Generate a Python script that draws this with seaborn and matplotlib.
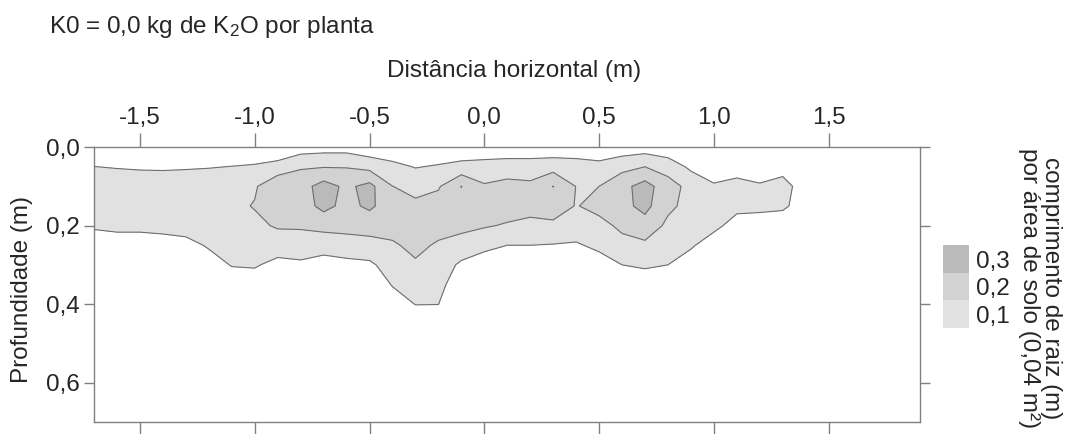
import numpy as np
import matplotlib
matplotlib.use("Agg")
import matplotlib.pyplot as plt
import seaborn as sns
from matplotlib.patches import Rectangle

# grid columns: horizontal distance from the plant (m)
distance = [-1.7, -1.6, -1.5, -1.4, -1.3, -1.2, -1.1, -1.0, -0.9, -0.8, -0.7, -0.6,
            -0.5, -0.4, -0.3, -0.2, -0.1, 0.0, 0.1, 0.2, 0.3, 0.4, 0.5, 0.6,
            0.7, 0.8, 0.9, 1.0, 1.1, 1.2, 1.3, 1.4, 1.5, 1.6, 1.7, 1.8, 1.9]
# grid rows: depth (m)
depth = [0.0, 0.05, 0.10, 0.15, 0.20, 0.25, 0.30, 0.35, 0.40, 0.45, 0.50, 0.60, 0.70]

# root length per soil area, one depth profile per distance column
root_profiles = [
    [0.02, 0.101, 0.15, 0.15, 0.11, 0.06, 0.03, 0.02, 0.01, 0.01, 0.01, 0.01, 0.01],   # -1.7
    [0.02, 0.095, 0.15, 0.16, 0.12, 0.06, 0.03, 0.02, 0.01, 0.01, 0.01, 0.01, 0.01],   # -1.6
    [0.02, 0.09, 0.15, 0.16, 0.12, 0.06, 0.03, 0.02, 0.01, 0.01, 0.01, 0.01, 0.01],    # -1.5
    [0.02, 0.088, 0.15, 0.16, 0.13, 0.06, 0.03, 0.02, 0.01, 0.01, 0.01, 0.01, 0.01],   # -1.4
    [0.02, 0.09, 0.16, 0.17, 0.14, 0.07, 0.04, 0.02, 0.01, 0.01, 0.01, 0.01, 0.01],    # -1.3
    [0.02, 0.095, 0.16, 0.17, 0.15, 0.11, 0.06, 0.03, 0.02, 0.01, 0.01, 0.01, 0.01],   # -1.2
    [0.03, 0.102, 0.17, 0.18, 0.17, 0.14, 0.105, 0.05, 0.03, 0.02, 0.01, 0.01, 0.01],  # -1.1
    [0.03, 0.11, 0.19, 0.205, 0.18, 0.15, 0.11, 0.05, 0.03, 0.02, 0.01, 0.01, 0.01],   # -1.0
    [0.0, 0.145, 0.27, 0.25, 0.21, 0.15, 0.07, 0.04, 0.02, 0.01, 0.01, 0.01, 0.01],    # -0.9
    [0.05, 0.19, 0.26, 0.25, 0.21, 0.16, 0.08, 0.04, 0.02, 0.01, 0.01, 0.01, 0.01],    # -0.8
    [0.06, 0.195, 0.34, 0.33, 0.23, 0.14, 0.06, 0.03, 0.02, 0.01, 0.01, 0.01, 0.01],   # -0.7
    [0.06, 0.195, 0.28, 0.27, 0.23, 0.16, 0.07, 0.04, 0.02, 0.01, 0.01, 0.01, 0.01],   # -0.6
    [0.03, 0.17, 0.33, 0.32, 0.235, 0.17, 0.08, 0.04, 0.02, 0.01, 0.01, 0.01, 0.01],   # -0.5
    [0.02, 0.13, 0.201, 0.24, 0.23, 0.19, 0.15, 0.105, 0.06, 0.03, 0.02, 0.01, 0.01],  # -0.4
    [0.02, 0.095, 0.17, 0.22, 0.23, 0.22, 0.19, 0.14, 0.102, 0.05, 0.02, 0.01, 0.01],  # -0.3
    [0.02, 0.11, 0.19, 0.24, 0.23, 0.19, 0.16, 0.13, 0.101, 0.05, 0.02, 0.01, 0.01],   # -0.2
    [0.03, 0.13, 0.302, 0.27, 0.22, 0.17, 0.08, 0.04, 0.02, 0.01, 0.01, 0.01, 0.01],   # -0.1
    [0.03, 0.14, 0.21, 0.25, 0.21, 0.12, 0.06, 0.03, 0.02, 0.01, 0.01, 0.01, 0.01],    # 0.0
    [0.03, 0.15, 0.23, 0.25, 0.19, 0.10, 0.05, 0.03, 0.02, 0.01, 0.01, 0.01, 0.01],    # 0.1
    [0.03, 0.15, 0.22, 0.24, 0.17, 0.10, 0.05, 0.03, 0.02, 0.01, 0.01, 0.01, 0.01],    # 0.2
    [0.03, 0.16, 0.302, 0.25, 0.18, 0.095, 0.05, 0.03, 0.02, 0.01, 0.01, 0.01, 0.01],  # 0.3
    [0.03, 0.15, 0.198, 0.195, 0.15, 0.09, 0.05, 0.03, 0.02, 0.01, 0.01, 0.01, 0.01],  # 0.4
    [0.03, 0.13, 0.20, 0.23, 0.17, 0.12, 0.06, 0.03, 0.02, 0.01, 0.01, 0.01, 0.01],    # 0.5
    [0.04, 0.17, 0.27, 0.27, 0.22, 0.17, 0.10, 0.05, 0.03, 0.02, 0.01, 0.01, 0.01],    # 0.6
    [0.05, 0.20, 0.34, 0.33, 0.26, 0.18, 0.11, 0.06, 0.03, 0.02, 0.01, 0.01, 0.01],    # 0.7
    [0.03, 0.16, 0.24, 0.22, 0.18, 0.14, 0.10, 0.05, 0.03, 0.02, 0.01, 0.01, 0.01],    # 0.8
    [0.02, 0.08, 0.17, 0.17, 0.15, 0.11, 0.06, 0.03, 0.02, 0.01, 0.01, 0.01, 0.01],    # 0.9
    [0.01, 0.05, 0.11, 0.14, 0.12, 0.06, 0.03, 0.02, 0.01, 0.01, 0.01, 0.01, 0.01],    # 1.0
    [0.01, 0.06, 0.13, 0.12, 0.07, 0.04, 0.02, 0.01, 0.01, 0.01, 0.01, 0.01, 0.01],    # 1.1
    [0.01, 0.05, 0.11, 0.12, 0.06, 0.03, 0.02, 0.01, 0.01, 0.01, 0.01, 0.01, 0.01],    # 1.2
    [0.01, 0.07, 0.13, 0.115, 0.05, 0.03, 0.02, 0.01, 0.01, 0.01, 0.01, 0.01, 0.01],   # 1.3
    [0.01, 0.04, 0.06, 0.06, 0.03, 0.02, 0.01, 0.01, 0.01, 0.01, 0.01, 0.01, 0.01],    # 1.4
    [0.01, 0.02, 0.03, 0.03, 0.02, 0.01, 0.01, 0.01, 0.01, 0.01, 0.01, 0.01, 0.01],    # 1.5
    [0.01, 0.02, 0.02, 0.02, 0.01, 0.01, 0.01, 0.01, 0.01, 0.01, 0.01, 0.01, 0.01],    # 1.6
    [0.01, 0.02, 0.02, 0.02, 0.01, 0.01, 0.01, 0.01, 0.01, 0.01, 0.01, 0.01, 0.01],    # 1.7
    [0.01, 0.02, 0.02, 0.02, 0.01, 0.01, 0.01, 0.01, 0.01, 0.01, 0.01, 0.01, 0.01],    # 1.8
    [0.01, 0.02, 0.02, 0.02, 0.01, 0.01, 0.01, 0.01, 0.01, 0.01, 0.01, 0.01, 0.01],    # 1.9
]

levels = [0.1, 0.2, 0.3]
level_labels = ["0,1", "0,2", "0,3"]
level_colors = ["#e1e1e1", "#d2d2d2", "#bababa"]
line_color = "#6e6e6e"

x_ticks = [-1.5, -1.0, -0.5, 0.0, 0.5, 1.0, 1.5]
x_tick_labels = ["-1,5", "-1,0", "-0,5", "0,0", "0,5", "1,0", "1,5"]
y_ticks = [0.0, 0.2, 0.4, 0.6]
y_tick_labels = ["0,0", "0,2", "0,4", "0,6"]

sns.set_style("ticks")
plt.rcParams["font.family"] = ["Liberation Sans", "DejaVu Sans"]
plt.rcParams["mathtext.fontset"] = "custom"
plt.rcParams["mathtext.rm"] = "Liberation Sans"
plt.rcParams["mathtext.it"] = "Liberation Sans:italic"

text_color = "#262626"
axis_color = "#808080"
fs = 17.5

fig = plt.figure(figsize=(10.69, 4.34), dpi=100)
ax = fig.add_axes([0.088, 0.028, 0.773, 0.633])

# grid is depth x distance
grid = np.array(root_profiles).T
ax.contourf(distance, depth, grid, levels=levels + [1.0], colors=level_colors)
ax.contour(distance, depth, grid, levels=levels, colors=line_color, linewidths=0.8)

ax.set_xlim(-1.7, 1.9)
ax.set_ylim(0.7, 0.0)
ax.set_xticks(x_ticks)
ax.set_xticklabels(x_tick_labels)
ax.set_yticks(y_ticks)
ax.set_yticklabels(y_tick_labels)
ax.tick_params(axis="both", direction="out", width=1, color=axis_color,
               labelsize=fs, labelcolor=text_color)
ax.tick_params(axis="x", top=True, labeltop=True, bottom=True, labelbottom=False,
               length=10, pad=3)
ax.tick_params(axis="y", left=True, right=True, labelright=False, length=7, pad=3)
for side in ax.spines.values():
    side.set_visible(True)
    side.set_color(axis_color)
    side.set_linewidth(1)

fig.text(0.481, 0.823, "Distância horizontal (m)", ha="center", va="baseline",
         fontsize=fs, color=text_color)
fig.text(0.021, 0.332, "Profundidade (m)", rotation=90, ha="center", va="center",
         fontsize=fs, color=text_color)
fig.text(0.046, 0.924, r"K0 = 0,0 kg de K$_\mathrm{2}$O por planta", ha="left",
         va="baseline", fontsize=fs, color=text_color)

# level key
cax = fig.add_axes([0.882, 0.244, 0.024, 0.191])
for i, (lab, col) in enumerate(zip(level_labels, level_colors)):
    cax.add_patch(Rectangle((0, i), 1, 1, facecolor=col, edgecolor="none"))
    cax.text(1.3, i + 0.4, lab, ha="left", va="center", fontsize=fs, color=text_color)
cax.set_xlim(0, 1)
cax.set_ylim(0, 3)
cax.axis("off")

fig.text(0.973, 0.336, "comprimento de raiz (m)\npor área de solo (0,04 m²)",
         rotation=270, ha="center", va="center", multialignment="center",
         linespacing=1.0, fontsize=fs, color=text_color)

fig.savefig("out.png", dpi=100)
